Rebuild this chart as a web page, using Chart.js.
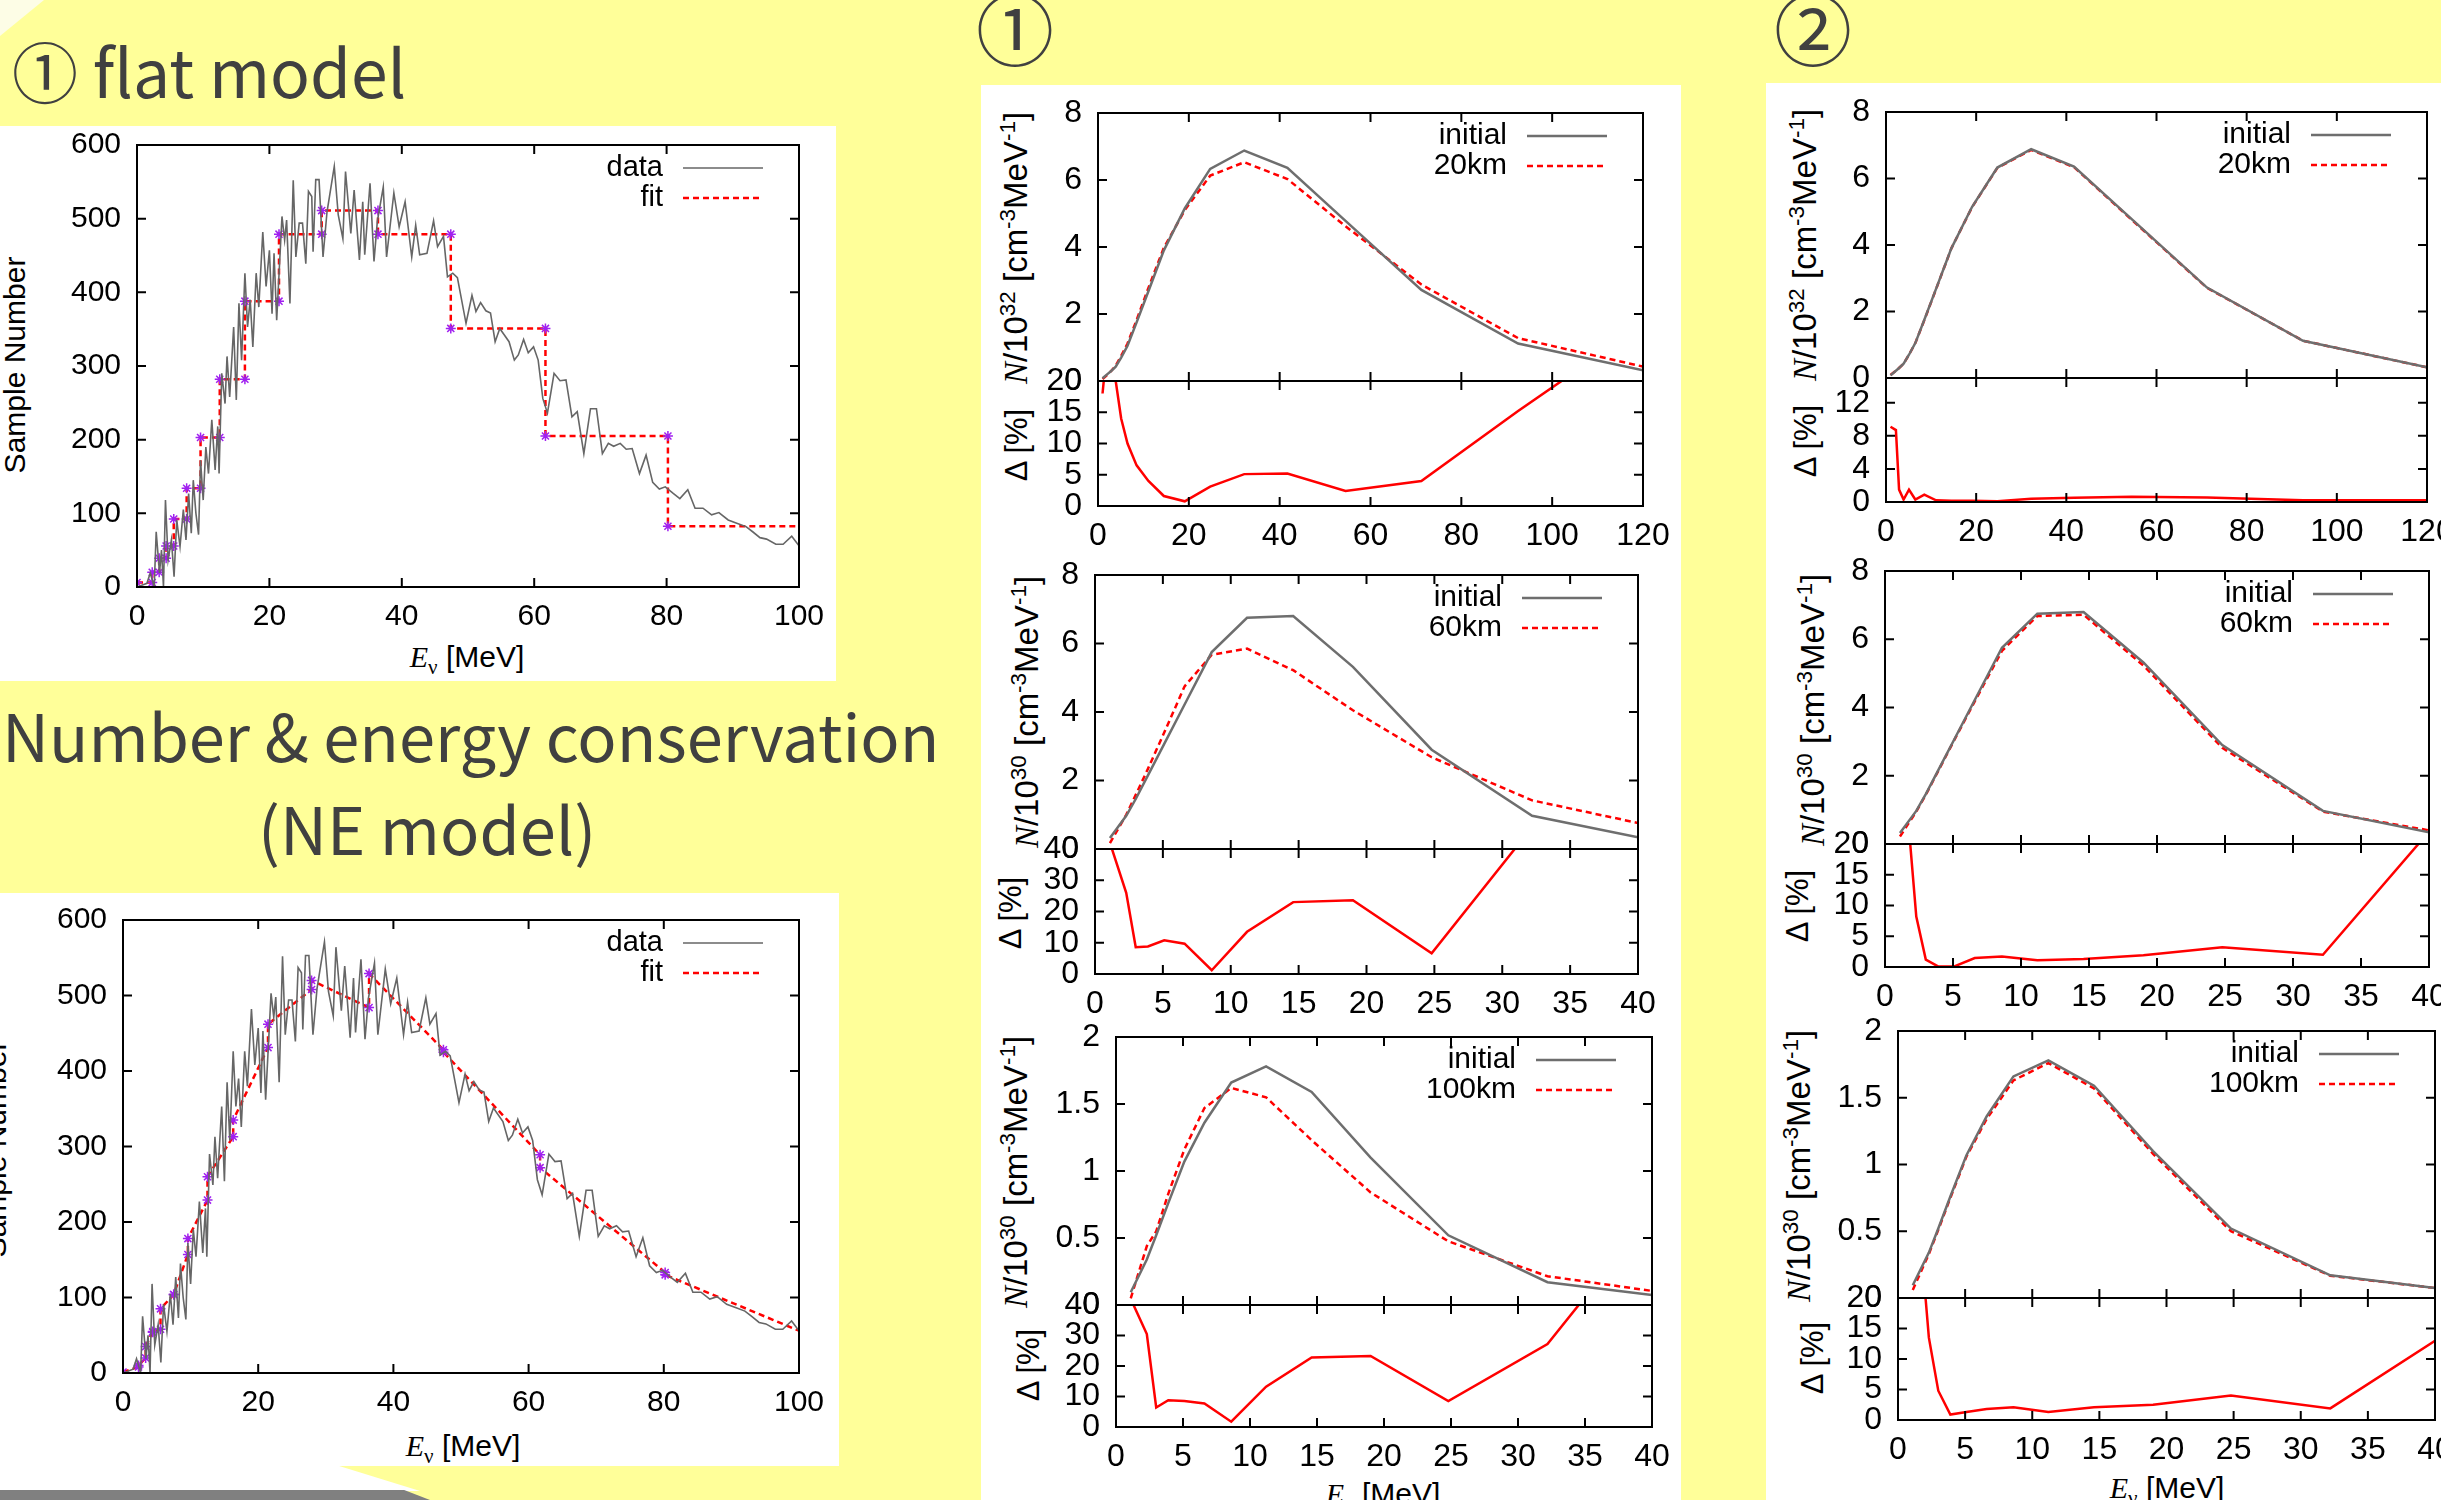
<!DOCTYPE html>
<html>
<head>
<meta charset="utf-8">
<script src="https://cdn.jsdelivr.net/npm/chart.js@4.4.1/dist/chart.umd.min.js"></script>
<style>
  html, body { margin: 0; padding: 0; }
  body { width: 2441px; height: 1500px; overflow: hidden; background: #ffff99; }
  #stage { position: relative; width: 2441px; height: 1500px; overflow: hidden; font-family: 'Liberation Sans', Arial, sans-serif; }
  .panel { position: absolute; background: #fff; }
  canvas { position: absolute; }
  .slide { position: absolute; font-family: 'Noto Sans CJK JP', 'Noto Sans', sans-serif; color: #404040; white-space: nowrap; line-height: 1; }
  .ax { position: absolute; white-space: nowrap; font-size: 33px; line-height: 1; color: #000; transform: translate(-50%, -50%) rotate(-90deg); }
  .ax.d { font-size: 31px; }
  .ax.s { font-size: 30px; }
  .xt { position: absolute; white-space: nowrap; font-size: 30px; line-height: 1; color: #000; transform: translate(-50%, -50%); }
  .it { font-family: 'Liberation Serif', serif; font-style: italic; }
  .nu { font-family: 'Liberation Serif', serif; font-size: 0.7em; vertical-align: -0.35em; }
  sup { font-size: 0.68em; vertical-align: 0.55em; line-height: 0; }
</style>
</head>
<body>
<div id="stage">
  <div class="panel" style="left:0;top:0;width:44px;height:36px;background:#fdfde6;clip-path:polygon(0 0,100% 0,0 100%)"></div>
  <div class="panel" style="left:0;top:126px;width:836px;height:555px"></div>
  <div class="panel" style="left:0;top:893px;width:839px;height:573px"></div>
  <div class="panel" style="left:0;top:1465px;width:420px;height:26px;clip-path:polygon(0 0,80% 0,100% 100%,0 100%)"></div>
  <div class="panel" style="left:0;top:1490px;width:430px;height:10px;background:#808080;clip-path:polygon(0 0,94% 0,100% 100%,0 100%)"></div>
  <div class="panel" style="left:981px;top:85px;width:700px;height:1415px"></div>
  <div class="panel" style="left:1766px;top:83px;width:675px;height:1417px"></div>

  <div class="slide" style="left:12px;top:36px;font-size:66px">① flat model</div>
  <div class="slide" style="left:2px;top:702px;font-size:65px">Number &amp; energy conservation</div>
  <div class="slide" style="left:258px;top:795px;font-size:65px">(NE model)</div>
  <div class="slide" style="left:1015px;top:26px;font-size:78px;transform:translate(-50%,-50%)">①</div>
  <div class="slide" style="left:1813px;top:26px;font-size:78px;transform:translate(-50%,-50%)">②</div>

  <div class="ax s" style="left:15px;top:365px">Sample Number</div>
  <div class="xt" style="left:467px;top:660px"><span class="it">E</span><span class="nu">ν</span> [MeV]</div>
  <div class="ax s" style="left:-4px;top:1149px">Sample Number</div>
  <div class="xt" style="left:463px;top:1449px"><span class="it">E</span><span class="nu">ν</span> [MeV]</div>

  <div class="ax" style="left:1016px;top:248px"><span class="it">N</span>/10<sup>32</sup> [cm<sup>-3</sup>MeV<sup>-1</sup>]</div>
  <div class="ax d" style="left:1016px;top:445px">Δ [%]</div>
  <div class="ax" style="left:1027px;top:712px"><span class="it">N</span>/10<sup>30</sup> [cm<sup>-3</sup>MeV<sup>-1</sup>]</div>
  <div class="ax d" style="left:1010px;top:913px">Δ [%]</div>
  <div class="ax" style="left:1016px;top:1172px"><span class="it">N</span>/10<sup>30</sup> [cm<sup>-3</sup>MeV<sup>-1</sup>]</div>
  <div class="ax d" style="left:1028px;top:1365px">Δ [%]</div>
  <div class="xt" style="left:1383px;top:1497px"><span class="it">E</span><span class="nu">ν</span> [MeV]</div>

  <div class="ax" style="left:1805px;top:245px"><span class="it">N</span>/10<sup>32</sup> [cm<sup>-3</sup>MeV<sup>-1</sup>]</div>
  <div class="ax d" style="left:1805px;top:441px">Δ [%]</div>
  <div class="ax" style="left:1813px;top:710px"><span class="it">N</span>/10<sup>30</sup> [cm<sup>-3</sup>MeV<sup>-1</sup>]</div>
  <div class="ax d" style="left:1797px;top:906px">Δ [%]</div>
  <div class="ax" style="left:1799px;top:1166px"><span class="it">N</span>/10<sup>30</sup> [cm<sup>-3</sup>MeV<sup>-1</sup>]</div>
  <div class="ax d" style="left:1812px;top:1358px">Δ [%]</div>
  <div class="xt" style="left:2167px;top:1491px"><span class="it">E</span><span class="nu">ν</span> [MeV]</div>
</div>
<script>
// sampled spectrum (left panels)
const sampleE = [0, 1.5, 2.0, 2.6, 2.9, 3.4, 3.7, 4.0, 4.3, 4.7,
  5.2, 5.6, 6.0, 6.5, 7.0, 7.4, 7.8, 8.2, 8.5, 8.9,
  9.3, 9.6, 10.0, 10.4, 10.8, 11.3, 11.8, 12.2, 12.4, 12.8,
  13.3, 13.6, 14.0, 14.6, 15.0, 15.4, 15.8, 16.3, 16.7, 17.1,
  17.5, 18.0, 18.4, 19.0, 19.5, 20.0, 20.4, 20.7, 21.1, 21.9,
  22.3, 22.6, 23.1, 23.6, 24.0, 24.5, 25.0, 25.5, 25.9, 26.4,
  26.6, 27.0, 27.5, 28.1, 28.7, 29.8, 30.4, 31.1, 31.5, 32.3,
  32.8, 33.6, 34.1, 34.4, 35.2, 35.8, 36.3, 37.2, 37.7, 38.8,
  39.6, 40.5, 41.5, 42.1, 42.7, 43.8, 44.8, 45.4, 46.3, 46.9,
  47.7, 48.4, 49.7, 50.6, 51.2, 51.9, 52.7, 53.4, 54.1, 54.8,
  56.2, 57.0, 57.6, 58.4, 59.1, 59.9, 60.6, 61.3, 62.0, 63.0,
  63.9, 64.8, 65.7, 66.5, 67.5, 68.5, 69.4, 70.3, 71.2, 72.0,
  73.0, 73.9, 74.8, 75.9, 76.9, 77.9, 78.9, 79.8, 81.0, 82.0,
  83.2, 84.3, 85.5, 86.8, 87.9, 89.3, 90.8, 92.0, 93.0, 94.1,
  95.1, 96.5, 97.6, 98.9, 100];
const sampleN = [0, 5, 19, 0, 75, 19, 50, 0, 118, 37,
  64, 14, 91, 55, 105, 64, 127, 73, 145, 100,
  71, 172, 118, 190, 154, 227, 159, 218, 154, 290,
  249, 313, 258, 353, 254, 385, 308, 426, 353, 390,
  326, 426, 380, 482, 408, 457, 371, 453, 362, 503,
  471, 498, 385, 552, 448, 494, 494, 439, 537, 530,
  455, 553, 553, 448, 509, 571, 505, 473, 564, 480,
  539, 444, 523, 451, 548, 442, 496, 543, 448, 535,
  489, 523, 448, 491, 451, 453, 497, 462, 476, 421,
  426, 420, 358, 396, 374, 386, 375, 372, 333, 351,
  333, 308, 315, 336, 318, 326, 308, 256, 236, 290,
  280, 281, 231, 238, 181, 242, 242, 181, 195, 191,
  195, 187, 188, 154, 179, 142, 133, 136, 127, 120,
  132, 107, 107, 98, 101, 91, 86, 82, 75, 67,
  65, 58, 58, 69, 56];

// energy bins of the fits
const binEdges = [0, 2.3, 3.35, 4.4, 5.55, 7.5, 9.6, 12.5, 16.3, 21.45, 27.9, 36.4, 47.4, 61.7, 80.2, 100];
const flatLevel = [6, 20, 39, 55.7, 92.3, 134, 203, 282, 388, 479, 511, 479, 351, 205, 82.5];
const neStart = [1.4, 10, 35, 54, 85, 104, 178, 260, 335, 462, 520, 529, 425, 272, 130];
const neEnd = [8, 20, 55, 58, 104, 157, 229, 313, 431, 508, 484, 428, 289, 133, 56];

// 20km, 0-120 MeV
const gridA = [1, 2.2, 2.9, 3.9, 5.1, 6.5, 8.5, 11.1, 14.5, 19.1, 24.7, 32.2, 41.7, 54.5, 71.2, 92.5, 120];
const init20 = [0.08, 0.22, 0.3, 0.43, 0.7, 1.05, 1.75, 2.68, 3.9, 5.15, 6.33, 6.88, 6.36, 4.78, 2.72, 1.12, 0.32];
const flat20 = [0.06, 0.2, 0.3, 0.46, 0.75, 1.12, 1.82, 2.78, 3.98, 5.1, 6.13, 6.53, 6.03, 4.62, 2.88, 1.28, 0.43];
const flat20dev = [18, 27, 24, 20, 14, 10, 6.5, 4, 1.6, 0.75, 3.1, 5.1, 5.2, 2.4, 4.0, 15.2, 29];
const ne20 = [0.09, 0.22, 0.3, 0.43, 0.7, 1.05, 1.74, 2.67, 3.9, 5.14, 6.32, 6.86, 6.34, 4.76, 2.71, 1.12, 0.32];
const ne20dev = [9.1, 8.7, 1.5, 0.3, 1.5, 0.3, 0.9, 0.2, 0.15, 0.15, 0.1, 0.4, 0.5, 0.65, 0.55, 0.2, 0.2];

// 60km and 100km, 0-40 MeV
const gridB = [1.1, 2.3, 3.0, 3.9, 5.1, 6.6, 8.6, 11.2, 14.6, 19.0, 24.8, 32.2, 40];
const init60 = [0.32, 0.97, 1.46, 2.15, 3.07, 4.22, 5.75, 6.75, 6.8, 5.32, 2.9, 0.97, 0.34];
const flat60 = [0.17, 1.0, 1.58, 2.34, 3.4, 4.75, 5.67, 5.85, 5.22, 4.05, 2.68, 1.42, 0.76];
const flat60dev = [42, 26, 8.6, 8.8, 10.8, 9.7, 1.2, 13.5, 23, 23.6, 6.6, 47, 55];
const ne60 = [0.22, 0.95, 1.44, 2.13, 3.05, 4.18, 5.66, 6.68, 6.72, 5.23, 2.82, 0.95, 0.40];
const ne60dev = [40, 8.2, 1.2, 0.1, 0.1, 1.45, 1.7, 1.1, 1.3, 1.9, 3.2, 2.0, 22];

const init100 = [0.095, 0.34, 0.52, 0.76, 1.07, 1.36, 1.66, 1.78, 1.59, 1.1, 0.52, 0.17, 0.074];
const flat100 = [0.05, 0.44, 0.55, 0.83, 1.16, 1.47, 1.62, 1.55, 1.23, 0.84, 0.475, 0.215, 0.105];
const flat100dev = [42, 30.5, 6.4, 8.8, 8.5, 7.7, 1.75, 13.2, 22.8, 23.3, 8.5, 27.2, 70];
const ne100 = [0.06, 0.33, 0.51, 0.75, 1.06, 1.34, 1.63, 1.76, 1.57, 1.08, 0.5, 0.167, 0.075];
const ne100dev = [45, 13.5, 4.8, 0.9, 1.3, 1.8, 2.1, 1.3, 2.1, 2.5, 4.0, 1.9, 13];

Chart.defaults.font.family = "'Liberation Sans', Arial, sans-serif";
Chart.defaults.color = '#000';

const GRAY = '#6e6e6e';
const RED = '#ff0000';
const PURPLE = '#a020f0';

// gnuplot-like border with inward ticks on all four sides
const gpFrame = {
  id: 'gpFrame',
  afterDraw(chart) {
    const { ctx, chartArea: a, scales } = chart;
    const t = 9;
    ctx.save();
    ctx.strokeStyle = '#000';
    ctx.lineWidth = 2;
    ctx.beginPath();
    for (const tk of scales.x.ticks) {
      const p = scales.x.getPixelForValue(tk.value);
      ctx.moveTo(p, a.bottom); ctx.lineTo(p, a.bottom - t);
      ctx.moveTo(p, a.top); ctx.lineTo(p, a.top + t);
    }
    for (const tk of scales.y.ticks) {
      const p = scales.y.getPixelForValue(tk.value);
      ctx.moveTo(a.left, p); ctx.lineTo(a.left + t, p);
      ctx.moveTo(a.right, p); ctx.lineTo(a.right - t, p);
    }
    ctx.stroke();
    ctx.strokeRect(a.left, a.top, a.right - a.left, a.bottom - a.top);
    ctx.restore();
  }
};

// key: label right aligned, line sample after it
const gpKey = {
  id: 'gpKey',
  afterDatasetsDraw(chart, args, opts) {
    if (!opts.rows || !opts.rows.length) return;
    const { ctx, chartArea: a } = chart;
    ctx.save();
    ctx.font = opts.size + "px 'Liberation Sans', Arial, sans-serif";
    ctx.textAlign = 'right';
    ctx.textBaseline = 'middle';
    opts.rows.forEach((idx, i) => {
      const ds = chart.data.datasets[idx];
      const x = a.right - 136;
      const y = a.top + 23 + i * 30;
      ctx.fillStyle = '#000';
      ctx.fillText(ds.label, x, y);
      ctx.strokeStyle = ds.borderColor;
      ctx.lineWidth = ds.borderWidth;
      ctx.setLineDash(ds.borderDash || []);
      ctx.beginPath();
      ctx.moveTo(x + 20, y);
      ctx.lineTo(x + 100, y);
      ctx.stroke();
    });
    ctx.restore();
  }
};

const pts = (xs, ys) => xs.map((x, i) => ({ x, y: ys[i] }));

const line = (label, data, color, width, dash) => ({
  label, data, showLine: true, borderColor: color, borderWidth: width,
  borderDash: dash || [], pointRadius: 0
});

const fitLine = (label, data) => ({
  label, data, showLine: true, borderColor: RED, borderWidth: 2.5, borderDash: [6, 4],
  pointStyle: 'star', pointBorderColor: PURPLE, pointBackgroundColor: PURPLE, pointBorderWidth: 1.5,
  pointRadius: c => (c.dataIndex === c.dataset.data.length - 1 ? 0 : 5)
});

function addChart(rect, xa, ya, datasets, o) {
  const L = 80, T = 40, R = 50;
  const B = o.xLabels ? 55 : 40;
  const cv = document.createElement('canvas');
  cv.width = Math.round(rect.r - rect.l + L + R);
  cv.height = Math.round(rect.b - rect.t + T + B);
  cv.style.left = Math.round(rect.l - L) + 'px';
  cv.style.top = Math.round(rect.t - T) + 'px';
  document.getElementById('stage').appendChild(cv);
  const xPad = Math.round(30 - 0.6 * o.fs);
  new Chart(cv, {
    type: 'scatter',
    data: { datasets },
    options: {
      responsive: false,
      animation: false,
      events: [],
      layout: { padding: { left: 0, top: T, right: R, bottom: o.xLabels ? 0 : B } },
      plugins: {
        legend: { display: false },
        tooltip: { enabled: false },
        gpKey: { rows: o.key || [], size: o.keySize || 30 }
      },
      scales: {
        x: {
          type: 'linear', min: xa[0], max: xa[1],
          grid: { display: false, drawTicks: false }, border: { display: false },
          ticks: { display: !!o.xLabels, stepSize: xa[2], padding: xPad, maxRotation: 0, autoSkip: false,
                   font: { size: o.fs }, callback: v => String(v) },
          afterFit: s => { s.height = o.xLabels ? B : 0; }
        },
        y: {
          min: ya[0], max: ya[1],
          grid: { display: false, drawTicks: false }, border: { display: false },
          ticks: { stepSize: ya[2], padding: 16, autoSkip: false, includeBounds: ya[3] !== false,
                   font: { size: o.fs }, callback: v => String(v) },
          afterFit: s => { s.width = L; }
        }
      }
    },
    plugins: [gpFrame, gpKey]
  });
}

// fit polylines from the bins
const flatPts = [];
flatLevel.forEach((v, i) => { flatPts.push({ x: binEdges[i], y: v }, { x: binEdges[i + 1], y: v }); });
const nePts = [];
neStart.forEach((v, i) => { nePts.push({ x: binEdges[i], y: v }, { x: binEdges[i + 1], y: neEnd[i] }); });

const sample = pts(sampleE, sampleN);

// left: flat model / NE model
addChart({ l: 137, r: 799, t: 145, b: 587 }, [0, 100, 20], [0, 600, 100],
  [line('data', sample, '#666666', 1.6), fitLine('fit', flatPts)],
  { xLabels: true, fs: 30, key: [0, 1], keySize: 29 });
addChart({ l: 123, r: 799, t: 920, b: 1373 }, [0, 100, 20], [0, 600, 100],
  [line('data', sample, '#666666', 1.6), fitLine('fit', nePts)],
  { xLabels: true, fs: 30, key: [0, 1], keySize: 29 });

// ① column
addChart({ l: 1098, r: 1643, t: 113, b: 381 }, [0, 120, 20], [0, 8, 2],
  [line('initial', pts(gridA, init20), GRAY, 2.5), line('20km', pts(gridA, flat20), RED, 2.5, [6, 4])],
  { fs: 32, key: [0, 1] });
addChart({ l: 1098, r: 1643, t: 381, b: 506 }, [0, 120, 20], [0, 20, 5],
  [line('Δ', pts(gridA, flat20dev), RED, 2.5)], { xLabels: true, fs: 32 });

addChart({ l: 1095, r: 1638, t: 575, b: 849 }, [0, 40, 5], [0, 8, 2],
  [line('initial', pts(gridB, init60), GRAY, 2.5), line('60km', pts(gridB, flat60), RED, 2.5, [6, 4])],
  { fs: 32, key: [0, 1] });
addChart({ l: 1095, r: 1638, t: 849, b: 974 }, [0, 40, 5], [0, 40, 10],
  [line('Δ', pts(gridB, flat60dev), RED, 2.5)], { xLabels: true, fs: 32 });

addChart({ l: 1116, r: 1652, t: 1037, b: 1305 }, [0, 40, 5], [0, 2, 0.5],
  [line('initial', pts(gridB, init100), GRAY, 2.5), line('100km', pts(gridB, flat100), RED, 2.5, [6, 4])],
  { fs: 32, key: [0, 1] });
addChart({ l: 1116, r: 1652, t: 1305, b: 1427 }, [0, 40, 5], [0, 40, 10],
  [line('Δ', pts(gridB, flat100dev), RED, 2.5)], { xLabels: true, fs: 32 });

// ② column
addChart({ l: 1886, r: 2427, t: 112, b: 378 }, [0, 120, 20], [0, 8, 2],
  [line('initial', pts(gridA, init20), GRAY, 2.5), line('20km', pts(gridA, ne20), RED, 2.5, [6, 4])],
  { fs: 32, key: [0, 1] });
addChart({ l: 1886, r: 2427, t: 378, b: 502 }, [0, 120, 20], [0, 15, 4, false],
  [line('Δ', pts(gridA, ne20dev), RED, 2.5)], { xLabels: true, fs: 32 });

addChart({ l: 1885, r: 2429, t: 571, b: 844 }, [0, 40, 5], [0, 8, 2],
  [line('initial', pts(gridB, init60), GRAY, 2.5), line('60km', pts(gridB, ne60), RED, 2.5, [6, 4])],
  { fs: 32, key: [0, 1] });
addChart({ l: 1885, r: 2429, t: 844, b: 967 }, [0, 40, 5], [0, 20, 5],
  [line('Δ', pts(gridB, ne60dev), RED, 2.5)], { xLabels: true, fs: 32 });

addChart({ l: 1898, r: 2435, t: 1031, b: 1298 }, [0, 40, 5], [0, 2, 0.5],
  [line('initial', pts(gridB, init100), GRAY, 2.5), line('100km', pts(gridB, ne100), RED, 2.5, [6, 4])],
  { fs: 32, key: [0, 1] });
addChart({ l: 1898, r: 2435, t: 1298, b: 1420 }, [0, 40, 5], [0, 20, 5],
  [line('Δ', pts(gridB, ne100dev), RED, 2.5)], { xLabels: true, fs: 32 });
</script>
</body>
</html>
